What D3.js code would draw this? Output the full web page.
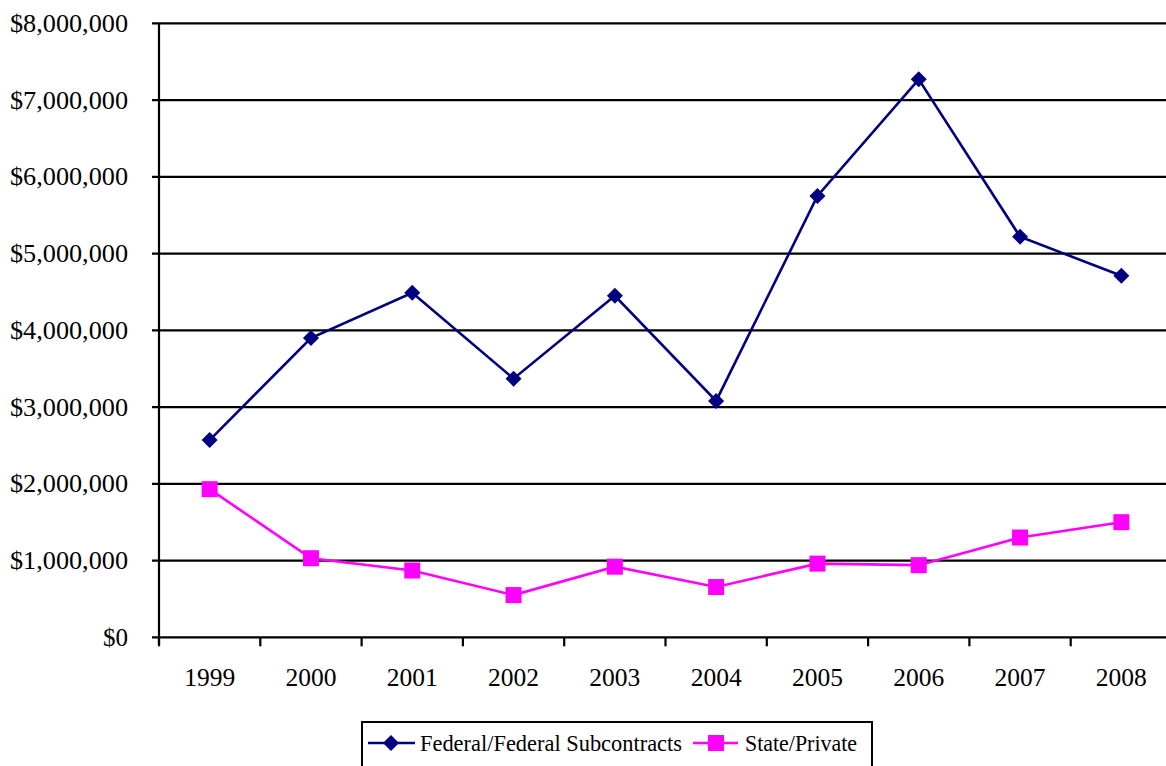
<!DOCTYPE html>
<html>
<head>
<meta charset="utf-8">
<script src="https://cdn.jsdelivr.net/npm/d3@7"></script>
<style>
  body { margin: 0; background: #fff; }
  svg { display: block; }
</style>
</head>
<body>
<div id="chart"></div>
<script>
// data
years = ["1999", "2000", "2001", "2002", "2003", "2004", "2005", "2006", "2007", "2008"]
federal = [2570000, 3900000, 4490000, 3370000, 4450000, 3080000, 5750000, 7270000, 5220000, 4710000]
statePrivate = [1930000, 1030000, 870000, 550000, 920000, 655000, 960000, 940000, 1300000, 1500000]
yTicks = [0, 1000000, 2000000, 3000000, 4000000, 5000000, 6000000, 7000000, 8000000]
seriesNames = ["Federal/Federal Subcontracts", "State/Private"]

const width = 1166, height = 766
const plotLeft = 159, plotRight = 1172, plotTop = 23.3, plotBottom = 637.3
const serif = "'Liberation Serif'"

const svg = d3.select("#chart").append("svg")
  .attr("width", width)
  .attr("height", height)

const x = d3.scaleBand().domain(years).range([plotLeft, plotRight])
const y = d3.scaleLinear().domain([0, 8000000]).range([plotBottom, plotTop])

// gridlines
svg.append("g")
  .selectAll("line")
  .data(yTicks)
  .join("line")
  .attr("x1", plotLeft - 7)
  .attr("x2", plotRight)
  .attr("y1", d => y(d))
  .attr("y2", d => y(d))
  .attr("stroke", "#000")
  .attr("stroke-width", 2.2)

// y axis line
svg.append("line")
  .attr("x1", plotLeft).attr("x2", plotLeft)
  .attr("y1", plotTop).attr("y2", plotBottom + 8)
  .attr("stroke", "#000").attr("stroke-width", 2.2)

// x ticks at band edges
svg.append("g")
  .selectAll("line")
  .data(years.concat(["end"]))
  .join("line")
  .attr("x1", (d, i) => plotLeft + i * x.bandwidth())
  .attr("x2", (d, i) => plotLeft + i * x.bandwidth())
  .attr("y1", plotBottom)
  .attr("y2", plotBottom + 9)
  .attr("stroke", "#000").attr("stroke-width", 2.2)

// y labels
svg.append("g")
  .selectAll("text")
  .data(yTicks)
  .join("text")
  .attr("x", 128)
  .attr("y", d => y(d))
  .attr("dy", "0.34em")
  .attr("text-anchor", "end")
  .style("font-family", serif)
  .style("font-size", "25px")
  .text(d => "$" + d3.format(",")(d))
  .each(function (d) {
    // stretch the long labels to the width they take in the picture
    if (d > 0) d3.select(this).attr("textLength", 118).attr("lengthAdjust", "spacingAndGlyphs")
  })

// x labels
svg.append("g")
  .selectAll("text")
  .data(years)
  .join("text")
  .attr("x", d => x(d) + x.bandwidth() / 2)
  .attr("y", 686)
  .attr("text-anchor", "middle")
  .style("font-family", serif)
  .style("font-size", "25.5px")
  .text(d => d)

const line = d3.line()
  .x((d, i) => x(years[i]) + x.bandwidth() / 2)
  .y(d => y(d))

// federal series
svg.append("path")
  .datum(federal)
  .attr("d", line)
  .attr("fill", "none")
  .attr("stroke", "#000080")
  .attr("stroke-width", 2.6)

svg.append("g")
  .selectAll("path")
  .data(federal)
  .join("path")
  .attr("transform", (d, i) => `translate(${x(years[i]) + x.bandwidth() / 2},${y(d)})`)
  .attr("d", "M0,-8L8,0L0,8L-8,0Z")
  .attr("fill", "#000080")

// state/private series
svg.append("path")
  .datum(statePrivate)
  .attr("d", line)
  .attr("fill", "none")
  .attr("stroke", "#FF00FF")
  .attr("stroke-width", 2.6)

svg.append("g")
  .selectAll("rect")
  .data(statePrivate)
  .join("rect")
  .attr("x", (d, i) => x(years[i]) + x.bandwidth() / 2 - 8)
  .attr("y", d => y(d) - 8)
  .attr("width", 16)
  .attr("height", 16)
  .attr("fill", "#FF00FF")

// legend
const legend = svg.append("g")
legend.append("rect")
  .attr("x", 362).attr("y", 722)
  .attr("width", 510).attr("height", 60)
  .attr("fill", "none").attr("stroke", "#000").attr("stroke-width", 2)

legend.append("line")
  .attr("x1", 368).attr("x2", 415).attr("y1", 743).attr("y2", 743)
  .attr("stroke", "#000080").attr("stroke-width", 2.6)
legend.append("path")
  .attr("transform", "translate(391,743)")
  .attr("d", "M0,-8L8,0L0,8L-8,0Z")
  .attr("fill", "#000080")
legend.append("text")
  .attr("x", 420).attr("y", 751)
  .style("font-family", serif)
  .style("font-size", "24px")
  .attr("textLength", 262)
  .attr("lengthAdjust", "spacingAndGlyphs")
  .text(seriesNames[0])

legend.append("line")
  .attr("x1", 693).attr("x2", 738).attr("y1", 743).attr("y2", 743)
  .attr("stroke", "#FF00FF").attr("stroke-width", 2.6)
legend.append("rect")
  .attr("x", 708).attr("y", 735).attr("width", 16).attr("height", 16)
  .attr("fill", "#FF00FF")
legend.append("text")
  .attr("x", 745).attr("y", 751)
  .style("font-family", serif)
  .style("font-size", "24px")
  .attr("textLength", 112)
  .attr("lengthAdjust", "spacingAndGlyphs")
  .text(seriesNames[1])
</script>
</body>
</html>
